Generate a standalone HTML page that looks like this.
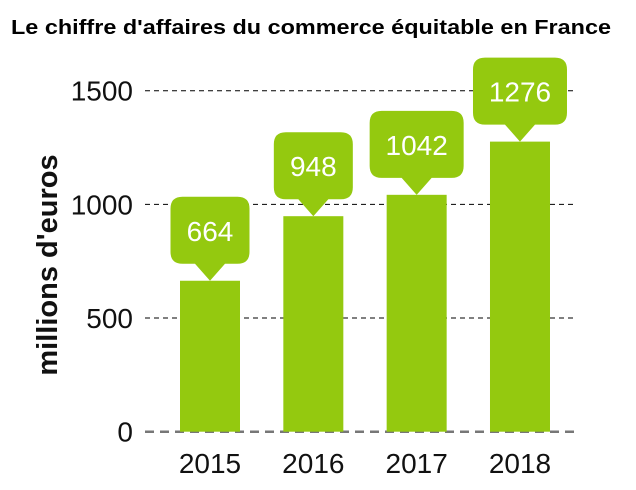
<!DOCTYPE html>
<html><head><meta charset="utf-8"><style>
html,body{margin:0;padding:0;background:#fff;}
svg{display:block;font-family:"Liberation Sans",Arial,sans-serif;}
</style></head><body>
<svg id="chart" width="636" height="490" viewBox="0 0 636 490">
<text x="311" y="34" text-anchor="middle" font-size="20" font-weight="bold" textLength="600" lengthAdjust="spacingAndGlyphs">Le chiffre d'affaires du commerce équitable en France</text>
<text transform="translate(57,265) rotate(-90)" text-anchor="middle" font-size="29" font-weight="bold" fill="#111">millions d'euros</text>
<g id="grid"></g><g id="bars"></g>
</svg>
<script>
const categories=["2015","2016","2017","2018"];
const values=[664,948,1042,1276];
const ticks=[0,500,1000,1500];
const NS="http://www.w3.org/2000/svg";
const svg=document.getElementById('chart');
const gGrid=document.getElementById('grid');
const gBars=document.getElementById('bars');
const y=v=>431.7-v*(431.7-90.7)/1500;
const x=i=>210+i*103.33;
function mk(t,a,p){const e=document.createElementNS(NS,t);for(const k in a)e.setAttribute(k,a[k]);p.appendChild(e);return e;}
ticks.forEach(t=>{
 const l=mk('line',{x1:145,x2:577,y1:y(t),y2:y(t),stroke:t===0?'#777':'#000','stroke-width':t===0?2.5:1,'stroke-dasharray':t===0?'9,6':'5,4'},gGrid);
 
 
 const tx=mk('text',{x:133,y:y(t)+10,'text-anchor':'end','font-size':28,fill:'#111'},gGrid);
 tx.textContent=t;
 
 
});
categories.forEach((c,i)=>{
 const cx=x(i),top=y(values[i]);
 const r=mk('rect',{x:cx-30,y:top,width:60,height:431.7-top,fill:'#94c90f'},gBars);
 
 
 const w=String(values[i]).length>3?94:79;
 const bb=top-17,bt=bb-67;
 const b=mk('path',{d:`M${cx-w/2+12},${bt} H${cx+w/2-12} Q${cx+w/2},${bt} ${cx+w/2},${bt+12} V${bb-12} Q${cx+w/2},${bb} ${cx+w/2-12},${bb} H${cx+15} L${cx},${top} L${cx-15},${bb} H${cx-w/2+12} Q${cx-w/2},${bb} ${cx-w/2},${bb-12} V${bt+12} Q${cx-w/2},${bt} ${cx-w/2+12},${bt} Z`,fill:'#94c90f'},gBars);
 
 
 const vt=mk('text',{x:cx,y:bb-23,'text-anchor':'middle','font-size':28,fill:'#fff'},gBars);
 vt.textContent=values[i];
 
 
 const xt=mk('text',{x:cx,y:473,'text-anchor':'middle','font-size':28,fill:'#111'},gBars);
 xt.textContent=c;
 
 
});
</script>
</body></html>
